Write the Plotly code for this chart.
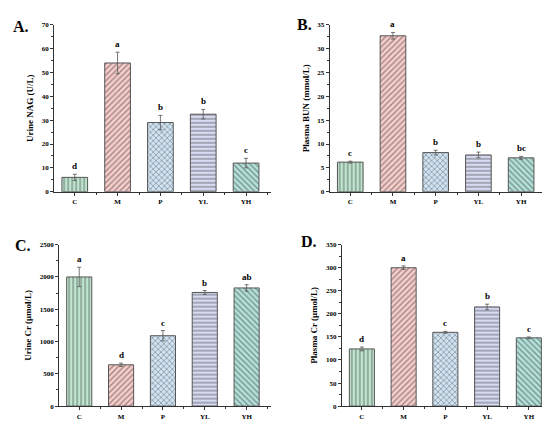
import plotly.graph_objects as go

# groups and measured values (mean, error) for each panel
groups = ["C", "M", "P", "YL", "YH"]

nag = [6.0, 54.0, 29.0, 32.5, 12.0]
nag_err = [1.3, 4.5, 3.0, 2.0, 2.0]
nag_sig = ["d", "a", "b", "b", "c"]

bun = [6.2, 32.7, 8.2, 7.7, 7.1]
bun_err = [0.2, 0.7, 0.5, 0.6, 0.3]
bun_sig = ["c", "a", "b", "b", "bc"]

ucr = [2000, 640, 1090, 1760, 1830]
ucr_err = [150, 25, 80, 30, 50]
ucr_sig = ["a", "d", "c", "b", "ab"]

pcr = [124, 300, 160, 215, 148]
pcr_err = [4, 4, 2, 6, 2]
pcr_sig = ["d", "a", "c", "b", "c"]

# fill / hatch colours and hatch shapes per group
fills = ["#bfe6cf", "#f9cdca", "#cfe3f3", "#d7daf3", "#b3e2da"]
hatch = ["#5fbf85", "#e27a76", "#3f72bd", "#8488d4", "#35a08f"]
shapes = ["|", "/", "x", "-", "\\"]

FONT = "Liberation Serif"

panels = [
    # values, errors, letters, y title, y max, dtick, x domain, y domain, label, label pos
    (nag, nag_err, nag_sig, "Urine NAG (U/L)", 70, 10,
     [0.084, 0.478], [0.566, 0.969], "A.", (3, 15)),
    (bun, bun_err, bun_sig, "Plasma BUN (mmol/L)", 35, 5,
     [0.585, 0.978], [0.566, 0.969], "B.", (287, 13)),
    (ucr, ucr_err, ucr_sig, "Urine Cr (μmol/L)", 2500, 500,
     [0.093, 0.478], [0.048, 0.438], "C.", (5, 238)),
    (pcr, pcr_err, pcr_sig, "Plasma Cr (μmol/L)", 350, 50,
     [0.607, 0.991], [0.048, 0.438], "D.", (291, 234)),
]

fig = go.Figure()
xs = list(range(len(groups)))

for i, (vals, errs, sig, ytitle, ymax, dt, xd, yd, lab, lpos) in enumerate(panels):
    n = "" if i == 0 else str(i + 1)
    fig.add_trace(go.Bar(
        x=xs, y=vals, width=0.6,
        marker=dict(color=fills, line=dict(color="#555555", width=1),
                    pattern=dict(shape=shapes, fgcolor=hatch, bgcolor=fills,
                                 size=4, solidity=0.35)),
        error_y=dict(type="data", array=errs, color="#555555",
                     thickness=0.8, width=2),
        xaxis="x" + n, yaxis="y" + n, showlegend=False,
    ))
    for x, v, e, s in zip(xs, vals, errs, sig):
        fig.add_annotation(x=x, y=v + e, text="<b>" + s + "</b>",
                           xref="x" + n, yref="y" + n, showarrow=False,
                           yanchor="bottom", yshift=1,
                           font=dict(family=FONT, size=9, color="black"))
    fig.add_annotation(x=lpos[0] / 550, y=1 - lpos[1] / 422,
                       xref="paper", yref="paper", showarrow=False,
                       xanchor="left", yanchor="middle",
                       text="<b>" + lab + "</b>",
                       font=dict(family=FONT, size=16, color="black"))
    fig.update_layout(**{
        "xaxis" + n: dict(
            domain=xd, anchor="y" + n, range=[-0.48, 4.58],
            tickvals=xs, ticktext=["<b>" + g + "</b>" for g in groups],
            showline=True, linecolor="#333333", linewidth=1,
            ticks="outside", ticklen=3, tickcolor="#333333",
            minor=dict(tick0=0.5, dtick=1, ticks="outside", ticklen=2,
                       tickcolor="#333333"),
            showgrid=False, zeroline=False,
            tickfont=dict(family=FONT, size=7, color="black"),
        ),
        "yaxis" + n: dict(
            domain=yd, anchor="x" + n, range=[0, ymax], dtick=dt,
            showline=True, linecolor="#333333", linewidth=1,
            ticks="outside", ticklen=3, tickcolor="#333333",
            minor=dict(dtick=dt / 2, ticks="outside", ticklen=2,
                       tickcolor="#333333"),
            showgrid=False, zeroline=False,
            tickfont=dict(family=FONT, size=7, color="black", weight="bold"),
            title=dict(text="<b>" + ytitle + "</b>", standoff=6,
                       font=dict(family=FONT, size=9, color="black")),
        ),
    })

fig.update_layout(
    width=550, height=422,
    margin=dict(l=0, r=0, t=0, b=0),
    paper_bgcolor="white", plot_bgcolor="white",
)

fig.write_html("out.html")
